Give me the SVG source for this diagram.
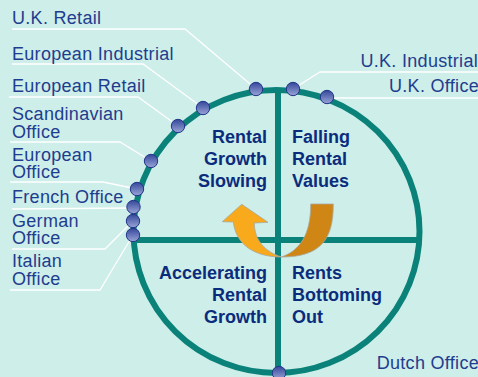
<svg xmlns="http://www.w3.org/2000/svg" width="478" height="377" viewBox="0 0 478 377">
  <defs>
    <linearGradient id="dotFill" x1="0" y1="0" x2="0" y2="1">
      <stop offset="0" stop-color="#34479b"/>
      <stop offset="1" stop-color="#9aa5d6"/>
    </linearGradient>
    <style>
      .bg { fill: #cdeee9; }
      .ring { fill: none; stroke: #0a8279; stroke-width: 6; }
      .axis { stroke: #0a8279; stroke-width: 6; }
      .leader { fill: none; stroke: #ffffff; stroke-width: 1.3; }
      .dot { fill: url(#dotFill); stroke: #22358a; stroke-width: 1; }
      .lbl { font-family: "Liberation Sans", Arial, sans-serif; font-size: 18px; letter-spacing: 0.3px; fill: #1f3d8f; }
      .quad { font-family: "Liberation Sans", Arial, sans-serif; font-size: 18px; font-weight: bold; fill: #0b2c7c; }
      .end { text-anchor: end; }
      .arrow { stroke: #a8a8a0; stroke-width: 0.8; stroke-linejoin: round; }
    </style>
  </defs>

  <rect class="bg" x="0" y="0" width="478" height="377"/>

  <!-- cycle ring and quadrant axes -->
  <g id="cycle">
    <ellipse class="ring" cx="276.5" cy="231.5" rx="143" ry="141.5"/>
    <line class="axis" x1="134" y1="240" x2="419" y2="240"/>
    <line class="axis" x1="278" y1="90" x2="278" y2="373"/>
  </g>

  <!-- leader lines from labels to markers -->
  <g id="connectors">
    <polyline class="leader" points="12,29 185,29 256,89"/>
    <polyline class="leader" points="12,64 143,64 203,108"/>
    <polyline class="leader" points="9,97 138,97 178,126"/>
    <polyline class="leader" points="10,142 120,142 151,161"/>
    <polyline class="leader" points="10,182 103,182 137,189"/>
    <polyline class="leader" points="12,209 133,208"/>
    <polyline class="leader" points="12,249 105,249 133,221"/>
    <polyline class="leader" points="10,290 100,290 133,235"/>
    <polyline class="leader" points="478,72 320,72 293,89"/>
    <polyline class="leader" points="478,98 327,98"/>
  </g>

  <!-- quadrant labels -->
  <g id="q-slowing">
    <text class="quad end" x="267" y="143">Rental</text>
    <text class="quad end" x="267" y="165">Growth</text>
    <text class="quad end" x="267" y="187">Slowing</text>
  </g>
  <g id="q-falling">
    <text class="quad" x="292" y="143">Falling</text>
    <text class="quad" x="292" y="165">Rental</text>
    <text class="quad" x="292" y="187">Values</text>
  </g>
  <g id="q-accelerating">
    <text class="quad end" x="267" y="279">Accelerating</text>
    <text class="quad end" x="267" y="301">Rental</text>
    <text class="quad end" x="267" y="323">Growth</text>
  </g>
  <g id="q-bottoming">
    <text class="quad" x="292" y="279">Rents</text>
    <text class="quad" x="292" y="301">Bottoming</text>
    <text class="quad" x="292" y="323">Out</text>
  </g>

  <!-- turning arrow: darker back half, lighter front half with head -->
  <g id="cycle-arrow">
    <path class="arrow" fill="#cf8614" d="M310.7,204 L333.3,204 C333.5,240 320,257 281.7,257 C300,250 310.7,235 310.7,204 Z"/>
    <path class="arrow" fill="#f8a91c" d="M281.7,257 C265,252 254.3,240 254.3,223 L268,222.3 L241.7,204.3 L222.3,221.7 L233.3,222 C236,245 255,257 281.7,257 Z"/>
  </g>

  <!-- markets -->
  <g id="uk-retail">
    <text class="lbl" x="12" y="24">U.K. Retail</text>
    <circle class="dot" cx="256" cy="89" r="6.7"/>
  </g>
  <g id="european-industrial">
    <text class="lbl" x="12" y="60">European Industrial</text>
    <circle class="dot" cx="203" cy="108" r="6.7"/>
  </g>
  <g id="european-retail">
    <text class="lbl" x="12" y="92">European Retail</text>
    <circle class="dot" cx="178" cy="126" r="6.7"/>
  </g>
  <g id="scandinavian-office">
    <text class="lbl" x="12" y="120">Scandinavian</text>
    <text class="lbl" x="12" y="138">Office</text>
    <circle class="dot" cx="151" cy="161" r="6.7"/>
  </g>
  <g id="european-office">
    <text class="lbl" x="12" y="161">European</text>
    <text class="lbl" x="12" y="178">Office</text>
    <circle class="dot" cx="137" cy="189" r="6.7"/>
  </g>
  <g id="french-office">
    <text class="lbl" x="12" y="203">French Office</text>
    <circle class="dot" cx="133.5" cy="207" r="6.7"/>
  </g>
  <g id="german-office">
    <text class="lbl" x="12" y="227">German</text>
    <text class="lbl" x="12" y="244">Office</text>
    <circle class="dot" cx="133" cy="221" r="6.7"/>
  </g>
  <g id="italian-office">
    <text class="lbl" x="12" y="267">Italian</text>
    <text class="lbl" x="12" y="285">Office</text>
    <circle class="dot" cx="133" cy="235" r="6.7"/>
  </g>
  <g id="uk-industrial">
    <text class="lbl end" x="478" y="67">U.K. Industrial</text>
    <circle class="dot" cx="293" cy="89" r="6.7"/>
  </g>
  <g id="uk-office">
    <text class="lbl end" x="479" y="92">U.K. Office</text>
    <circle class="dot" cx="327" cy="97" r="6.7"/>
  </g>
  <g id="dutch-office">
    <text class="lbl end" x="479" y="369">Dutch Office</text>
    <circle class="dot" cx="279" cy="373" r="6.7"/>
  </g>
</svg>
